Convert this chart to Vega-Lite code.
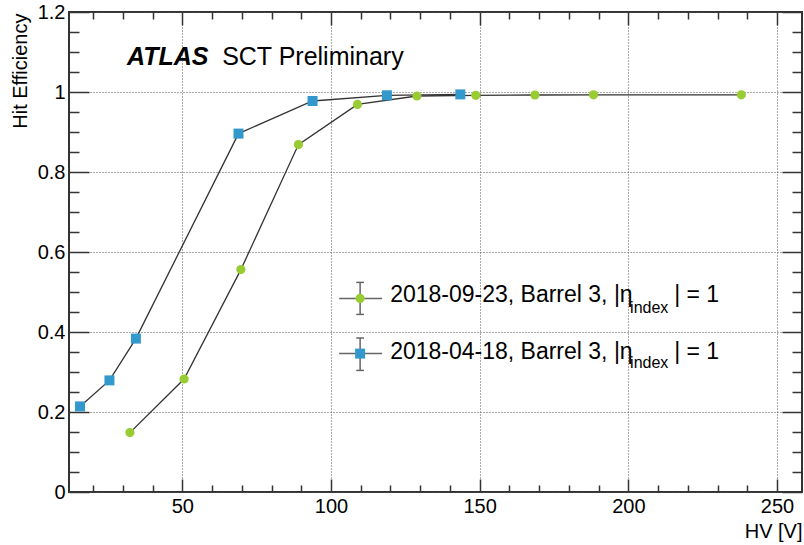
{
  "$schema": "https://vega.github.io/schema/vega-lite/v6.json",
  "width": 733,
  "height": 480,
  "autosize": "none",
  "padding": {"left": 69, "top": 12, "right": 2, "bottom": 53},
  "background": "white",
  "config": {
    "view": {"stroke": "#333", "strokeWidth": 2},
    "font": "Liberation Sans"
  },
  "data": {
    "values": [
      {"series": "2018-09-23", "hv": 32.4, "eff": 0.1485},
      {"series": "2018-09-23", "hv": 50.6, "eff": 0.2825},
      {"series": "2018-09-23", "hv": 69.7, "eff": 0.556},
      {"series": "2018-09-23", "hv": 89.05, "eff": 0.8685},
      {"series": "2018-09-23", "hv": 108.9, "eff": 0.969},
      {"series": "2018-09-23", "hv": 128.9, "eff": 0.99},
      {"series": "2018-09-23", "hv": 148.7, "eff": 0.9918},
      {"series": "2018-09-23", "hv": 168.6, "eff": 0.9925},
      {"series": "2018-09-23", "hv": 188.3, "eff": 0.993},
      {"series": "2018-09-23", "hv": 238.0, "eff": 0.993},
      {"series": "2018-04-18", "hv": 15.6, "eff": 0.214},
      {"series": "2018-04-18", "hv": 25.5, "eff": 0.279},
      {"series": "2018-04-18", "hv": 34.4, "eff": 0.3835},
      {"series": "2018-04-18", "hv": 68.9, "eff": 0.896},
      {"series": "2018-04-18", "hv": 93.8, "eff": 0.9775},
      {"series": "2018-04-18", "hv": 118.8, "eff": 0.9918},
      {"series": "2018-04-18", "hv": 143.5, "eff": 0.994}
    ]
  },
  "layer": [
    {
      "mark": {"type": "point", "opacity": 0},
      "encoding": {
        "x": {
          "field": "hv", "type": "quantitative",
          "scale": {"domain": [11.9, 258.4], "nice": false, "zero": false},
          "axis": {
            "orient": "bottom", "values": [50, 100, 150, 200, 250],
            "grid": true, "gridDash": [1, 2], "gridColor": "#555", "gridWidth": 1,
            "ticks": false, "domain": false,
            "labelFont": "Liberation Sans", "labelFontSize": 20, "labelColor": "#000",
            "labelPadding": 4, "labelFlush": false, "labelOverlap": false,
            "title": "HV [V]", "titleFont": "Liberation Sans", "titleFontSize": 20,
            "titleFontWeight": "normal", "titleColor": "#000",
            "titleAlign": "right", "titleBaseline": "alphabetic",
            "titleX": 733, "titleY": 45
          }
        },
        "y": {
          "field": "eff", "type": "quantitative",
          "scale": {"domain": [0, 1.2], "nice": false, "zero": false},
          "axis": {
            "orient": "left", "values": [0, 0.2, 0.4, 0.6, 0.8, 1, 1.2], "format": "~g",
            "grid": true, "gridDash": [1, 2], "gridColor": "#555", "gridWidth": 1,
            "ticks": false, "domain": false,
            "labelFont": "Liberation Sans", "labelFontSize": 20, "labelColor": "#000",
            "labelPadding": 4, "labelFlush": false, "labelOverlap": false,
            "title": "Hit Efficiency", "titleFont": "Liberation Sans", "titleFontSize": 20,
            "titleFontWeight": "normal", "titleColor": "#000",
            "titleAngle": 270, "titleAlign": "right", "titleBaseline": "alphabetic",
            "titleX": -43, "titleY": 1
          }
        }
      }
    },
    {
      "layer": [
        {
          "mark": {"type": "line", "color": "#333", "strokeWidth": 1.3},
          "encoding": {
            "x": {"field": "hv", "type": "quantitative", "axis": null},
            "y": {"field": "eff", "type": "quantitative", "axis": null},
            "detail": {"field": "series"}
          }
        },
        {
          "transform": [{"filter": "datum.series == '2018-04-18'"}],
          "mark": {"type": "square", "color": "#3399cc", "size": 100, "opacity": 1},
          "encoding": {
            "x": {"field": "hv", "type": "quantitative", "axis": null},
            "y": {"field": "eff", "type": "quantitative", "axis": null}
          }
        },
        {
          "transform": [{"filter": "datum.series == '2018-09-23'"}],
          "mark": {"type": "circle", "color": "#99cc33", "size": 85, "opacity": 1},
          "encoding": {
            "x": {"field": "hv", "type": "quantitative", "axis": null},
            "y": {"field": "eff", "type": "quantitative", "axis": null}
          }
        },
        {
          "data": {"values": [{}]},
          "mark": {"type": "text", "text": "ATLAS", "font": "Liberation Sans", "fontSize": 25, "fontWeight": "bold", "fontStyle": "italic", "align": "left", "baseline": "alphabetic", "color": "#000"},
          "encoding": {
            "x": {"datum": 31.4, "type": "quantitative", "axis": null},
            "y": {"datum": 1.0668, "type": "quantitative", "axis": null}
          }
        },
        {
          "data": {"values": [{}]},
          "mark": {"type": "text", "text": "SCT Preliminary", "font": "Liberation Sans", "fontSize": 25, "align": "left", "baseline": "alphabetic", "color": "#000"},
          "encoding": {
            "x": {"datum": 63.4, "type": "quantitative", "axis": null},
            "y": {"datum": 1.0668, "type": "quantitative", "axis": null}
          }
        },
        {
          "data": {"values": [
            {"a": 102.75, "b": 117.2, "c": 0.484, "d": 0.484},
            {"a": 109.8, "b": 109.8, "c": 0.444, "d": 0.524},
            {"a": 108.5, "b": 111.1, "c": 0.524, "d": 0.524},
            {"a": 108.5, "b": 111.1, "c": 0.444, "d": 0.444},
            {"a": 102.75, "b": 117.2, "c": 0.346, "d": 0.346},
            {"a": 109.8, "b": 109.8, "c": 0.304, "d": 0.385},
            {"a": 108.5, "b": 111.1, "c": 0.385, "d": 0.385},
            {"a": 108.5, "b": 111.1, "c": 0.304, "d": 0.304}
          ]},
          "mark": {"type": "rule", "color": "#666", "strokeWidth": 1.5},
          "encoding": {
            "x": {"field": "a", "type": "quantitative", "axis": null},
            "x2": {"field": "b"},
            "y": {"field": "c", "type": "quantitative", "axis": null},
            "y2": {"field": "d"}
          }
        },
        {
          "data": {"values": [{}]},
          "mark": {"type": "circle", "color": "#99cc33", "size": 85, "opacity": 1},
          "encoding": {
            "x": {"datum": 109.8, "type": "quantitative", "axis": null},
            "y": {"datum": 0.484, "type": "quantitative", "axis": null}
          }
        },
        {
          "data": {"values": [{}]},
          "mark": {"type": "square", "color": "#3399cc", "size": 100, "opacity": 1},
          "encoding": {
            "x": {"datum": 109.8, "type": "quantitative", "axis": null},
            "y": {"datum": 0.346, "type": "quantitative", "axis": null}
          }
        },
        {
          "data": {"values": [
            {"t": "2018-09-23, Barrel 3, |η", "x": 119.9, "y": 0.475},
            {"t": "| = 1", "x": 215.4, "y": 0.475},
            {"t": "2018-04-18, Barrel 3, |η", "x": 119.9, "y": 0.3335},
            {"t": "| = 1", "x": 215.4, "y": 0.3335}
          ]},
          "mark": {"type": "text", "font": "Liberation Sans", "fontSize": 23, "align": "left", "baseline": "alphabetic", "color": "#000"},
          "encoding": {
            "x": {"field": "x", "type": "quantitative", "axis": null},
            "y": {"field": "y", "type": "quantitative", "axis": null},
            "text": {"field": "t"}
          }
        },
        {
          "data": {"values": [
            {"t": "index", "x": 200.6, "y": 0.447},
            {"t": "index", "x": 200.6, "y": 0.3095}
          ]},
          "mark": {"type": "text", "font": "Liberation Sans", "fontSize": 16, "align": "left", "baseline": "alphabetic", "color": "#000"},
          "encoding": {
            "x": {"field": "x", "type": "quantitative", "axis": null},
            "y": {"field": "y", "type": "quantitative", "axis": null},
            "text": {"field": "t"}
          }
        }
      ]
    },
    {
      "mark": {"type": "point", "opacity": 0},
      "encoding": {
        "x": {"field": "hv", "type": "quantitative", "scale": {"domain": [11.9, 258.4], "nice": false, "zero": false},
          "axis": {"orient": "bottom", "values": [50, 100, 150, 200, 250], "ticks": true, "tickSize": -13, "tickColor": "#333", "tickWidth": 1.5, "labels": false, "grid": false, "domain": false, "title": null}},
        "y": {"field": "eff", "type": "quantitative", "scale": {"domain": [0, 1.2], "nice": false, "zero": false},
          "axis": {"orient": "left", "values": [0, 0.2, 0.4, 0.6, 0.8, 1, 1.2], "ticks": true, "tickSize": -20, "tickColor": "#333", "tickWidth": 1.5, "labels": false, "grid": false, "domain": false, "title": null}}
      }
    },
    {
      "mark": {"type": "point", "opacity": 0},
      "encoding": {
        "x": {"field": "hv", "type": "quantitative", "scale": {"domain": [11.9, 258.4], "nice": false, "zero": false},
          "axis": {"orient": "bottom", "values": [20, 30, 40, 60, 70, 80, 90, 110, 120, 130, 140, 160, 170, 180, 190, 210, 220, 230, 240], "ticks": true, "tickSize": -7, "tickColor": "#333", "tickWidth": 1.5, "labels": false, "grid": false, "domain": false, "title": null}},
        "y": {"field": "eff", "type": "quantitative", "scale": {"domain": [0, 1.2], "nice": false, "zero": false},
          "axis": {"orient": "left", "values": [0.05, 0.1, 0.15, 0.25, 0.3, 0.35, 0.45, 0.5, 0.55, 0.65, 0.7, 0.75, 0.85, 0.9, 0.95, 1.05, 1.1, 1.15], "ticks": true, "tickSize": -10, "tickColor": "#333", "tickWidth": 1.5, "labels": false, "grid": false, "domain": false, "title": null}}
      }
    },
    {
      "mark": {"type": "point", "opacity": 0},
      "encoding": {
        "x": {"field": "hv", "type": "quantitative", "scale": {"domain": [11.9, 258.4], "nice": false, "zero": false},
          "axis": {"orient": "top", "values": [50, 100, 150, 200, 250], "ticks": true, "tickSize": -13, "tickColor": "#333", "tickWidth": 1.5, "labels": false, "grid": false, "domain": false, "title": null}},
        "y": {"field": "eff", "type": "quantitative", "scale": {"domain": [0, 1.2], "nice": false, "zero": false},
          "axis": {"orient": "right", "values": [0, 0.2, 0.4, 0.6, 0.8, 1, 1.2], "ticks": true, "tickSize": -20, "tickColor": "#333", "tickWidth": 1.5, "labels": false, "grid": false, "domain": false, "title": null}}
      }
    },
    {
      "mark": {"type": "point", "opacity": 0},
      "encoding": {
        "x": {"field": "hv", "type": "quantitative", "scale": {"domain": [11.9, 258.4], "nice": false, "zero": false},
          "axis": {"orient": "top", "values": [20, 30, 40, 60, 70, 80, 90, 110, 120, 130, 140, 160, 170, 180, 190, 210, 220, 230, 240], "ticks": true, "tickSize": -7, "tickColor": "#333", "tickWidth": 1.5, "labels": false, "grid": false, "domain": false, "title": null}},
        "y": {"field": "eff", "type": "quantitative", "scale": {"domain": [0, 1.2], "nice": false, "zero": false},
          "axis": {"orient": "right", "values": [0.05, 0.1, 0.15, 0.25, 0.3, 0.35, 0.45, 0.5, 0.55, 0.65, 0.7, 0.75, 0.85, 0.9, 0.95, 1.05, 1.1, 1.15], "ticks": true, "tickSize": -10, "tickColor": "#333", "tickWidth": 1.5, "labels": false, "grid": false, "domain": false, "title": null}}
      }
    }
  ],
  "resolve": {"axis": {"x": "independent", "y": "independent"}}
}
